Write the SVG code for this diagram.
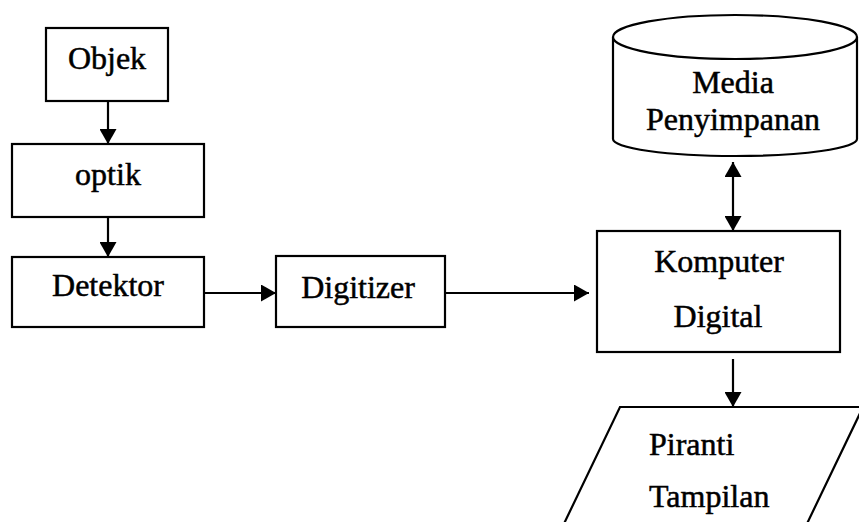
<svg xmlns="http://www.w3.org/2000/svg" width="859" height="522" viewBox="0 0 859 522">
<style>
.box{fill:#fff;stroke:#000;stroke-width:2.2}
.ln{fill:none;stroke:#000;stroke-width:2.2}
.t{font-family:"Liberation Serif","Times New Roman",serif;font-size:32px;fill:#000;stroke:#000;stroke-width:0.5}
.c{text-anchor:middle}
</style>
<defs>
<marker id="ah" markerUnits="userSpaceOnUse" markerWidth="17" markerHeight="17" viewBox="0 0 17 17" refX="15" refY="8.5" orient="auto-start-reverse">
<path d="M0,0 L15,8.5 L0,17 Z" fill="#000"/>
</marker>
</defs>
<rect width="859" height="522" fill="#fff"/>
<g id="connectors">
<line class="ln" x1="108" y1="101" x2="108" y2="144" marker-end="url(#ah)"/>
<line class="ln" x1="108" y1="217" x2="108" y2="257" marker-end="url(#ah)"/>
<line class="ln" x1="204" y1="293" x2="276" y2="293" marker-end="url(#ah)"/>
<line class="ln" x1="445" y1="293" x2="589" y2="293" marker-end="url(#ah)"/>
<line class="ln" x1="733" y1="162" x2="733" y2="231" marker-start="url(#ah)" marker-end="url(#ah)"/>
<line class="ln" x1="733" y1="359" x2="733" y2="407" marker-end="url(#ah)"/>
</g>
<g id="objek">
<rect class="box" x="46" y="28" width="122" height="73"/>
<text class="t c" x="107" y="69">Objek</text>
</g>
<g id="optik">
<rect class="box" x="12" y="144" width="192" height="73"/>
<text class="t c" x="108" y="185">optik</text>
</g>
<g id="detektor">
<rect class="box" x="12" y="257" width="192" height="70"/>
<text class="t c" x="108" y="296">Detektor</text>
</g>
<g id="digitizer">
<rect class="box" x="276" y="256" width="169" height="71"/>
<text class="t c" x="358" y="298">Digitizer</text>
</g>
<g id="media">
<path class="box" d="M613,37 L613,139 A122,17 0 0 0 857,139 L857,37"/>
<ellipse class="box" cx="735" cy="37" rx="122" ry="22"/>
<text class="t c" x="733" y="93">Media</text>
<text class="t c" x="733" y="130">Penyimpanan</text>
</g>
<g id="komputer">
<rect class="box" x="597" y="231" width="243" height="121"/>
<text class="t c" x="719" y="272">Komputer</text>
<text class="t c" x="718" y="327">Digital</text>
</g>
<g id="piranti">
<polygon class="box" points="620,407 863,407 803,532 560,532"/>
<text class="t" x="649" y="455">Piranti</text>
<text class="t" x="649" y="507">Tampilan</text>
</g>
</svg>
